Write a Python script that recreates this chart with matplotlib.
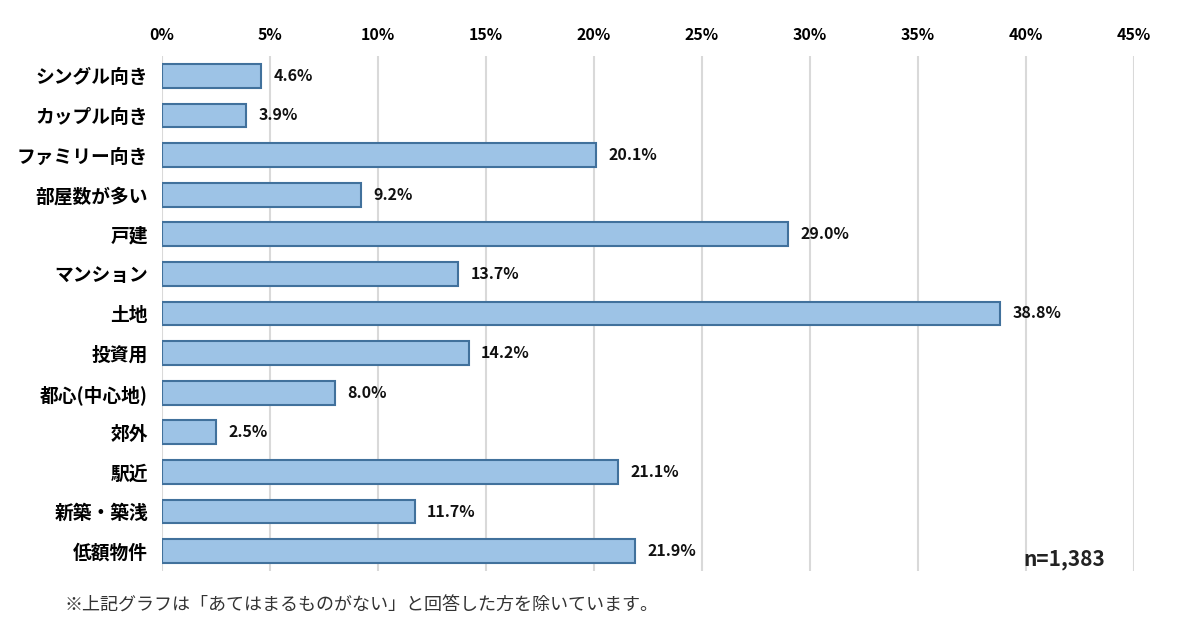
import matplotlib.pyplot as plt
import matplotlib.ticker as mticker

plt.rcParams['font.family'] = ['Noto Sans CJK JP', 'DejaVu Sans']

categories = ["シングル向き", "カップル向き", "ファミリー向き", "部屋数が多い", "戸建",
              "マンション", "土地", "投資用", "都心(中心地)", "郊外", "駅近",
              "新築・築浅", "低額物件"]
values = [4.6, 3.9, 20.1, 9.2, 29.0, 13.7, 38.8, 14.2, 8.0, 2.5, 21.1, 11.7, 21.9]
x_ticks = [0, 5, 10, 15, 20, 25, 30, 35, 40, 45]

fig = plt.figure(figsize=(12, 6.34), dpi=100)
ax = fig.add_axes([0.135, 0.0994, 0.81, 0.8123])

y = range(len(categories))
ax.barh(y, values, height=0.6, color='#9dc3e6', edgecolor='#41719c', linewidth=1.5, zorder=3)

for yi, v in zip(y, values):
    ax.annotate(f"{v:.1f}%", xy=(v, yi), xytext=(9, 0), textcoords='offset points',
                va='center', ha='left', fontsize=11.5, fontweight='bold', color='#111111')

ax.set_xlim(0, 45)
ax.set_ylim(12.5, -0.5)
ax.set_xticks(x_ticks)
ax.xaxis.set_major_formatter(mticker.FuncFormatter(lambda v, p: f"{v:.0f}%"))
ax.xaxis.tick_top()
ax.tick_params(axis='x', length=0, pad=9, labelsize=11.5)
ax.tick_params(axis='y', length=0, pad=10, labelsize=13.5)
for lab in ax.get_xticklabels():
    lab.set_fontweight('bold')
ax.set_yticks(list(y))
ax.set_yticklabels(categories, fontweight='bold')

ax.grid(axis='x', color='#d9d9d9', linewidth=1.5, zorder=0)
for s in ax.spines.values():
    s.set_visible(False)

fig.text(0.921, 0.117, "n=1,383", ha='right', va='center', fontsize=15, fontweight='bold', color='#222222')
fig.text(0.054, 0.045, "※上記グラフは「あてはまるものがない」と回答した方を除いています。",
         ha='left', va='center', fontsize=13, color='#333333')

fig.savefig("out.png", dpi=100)
